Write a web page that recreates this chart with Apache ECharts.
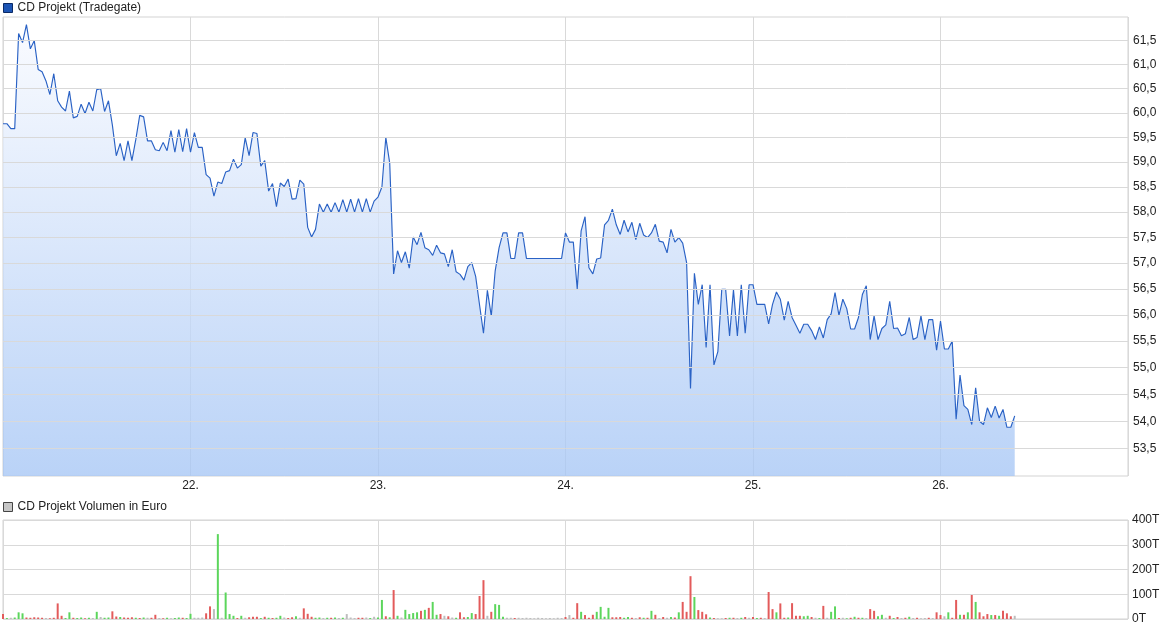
<!DOCTYPE html>
<html><head><meta charset="utf-8">
<script src="https://cdn.jsdelivr.net/npm/echarts@6/dist/echarts.min.js"></script>
<style>html,body{margin:0;padding:0;background:#fff}#c{width:1175px;height:630px}</style>
</head><body><div id="c"></div>
<script>
// ---- data ----
const START_DAY = 21;          // first sample: day 21, 00:00
const STEP_DAYS = 1 / 48;      // one sample every 30 minutes
const dayTicks = [22, 23, 24, 25, 26];
const priceTicks = [53.5, 54, 54.5, 55, 55.5, 56, 56.5, 57, 57.5, 58, 58.5, 59, 59.5, 60, 60.5, 61, 61.5];
const volumeTicks = [0, 100, 200, 300, 400];

const prices = [
59.78,59.78,59.68,59.68,61.65,61.46,61.84,61.33,61.5,60.9,
60.85,60.66,60.38,60.81,60.25,60.12,60.04,60.45,59.9,59.93,
60.18,59.99,60.22,60.04,60.48,60.5,60.03,60.25,59.75,59.13,
59.38,59.03,59.43,59.03,59.46,59.95,59.92,59.43,59.43,59.25,
59.23,59.4,59.23,59.64,59.2,59.66,59.21,59.68,59.2,59.6,
59.3,59.3,58.75,58.68,58.32,58.6,58.57,58.8,58.83,59.06,
58.88,58.95,59.49,59.13,59.6,59.58,58.92,59.03,58.42,58.57,
58.11,58.58,58.51,58.66,58.26,58.27,58.64,58.56,57.7,57.51,
57.66,58.16,58.0,58.16,58.0,58.19,58.0,58.25,58.0,58.26,
58.0,58.27,58.0,58.27,58.0,58.22,58.3,58.5,59.5,58.98,
56.79,57.24,57.01,57.22,56.9,57.51,57.36,57.6,57.3,57.26,
57.15,57.35,57.2,57.18,56.93,57.26,56.83,56.78,56.67,56.93,
57.01,56.74,56.19,55.65,56.47,55.98,56.85,57.3,57.59,57.59,
57.09,57.09,57.59,57.59,57.09,57.09,57.09,57.09,57.09,57.09,
57.09,57.09,57.09,57.09,57.59,57.41,57.41,56.5,57.63,57.91,
56.91,56.79,57.08,57.1,57.75,57.84,58.06,57.75,57.56,57.84,
57.61,57.8,57.46,57.78,57.55,57.5,57.59,57.76,57.43,57.41,
57.2,57.66,57.41,57.5,57.39,57.01,54.61,56.8,56.2,56.58,
55.38,56.58,55.05,55.3,56.49,56.49,55.6,56.48,55.6,56.58,
55.65,56.58,56.58,56.2,56.2,56.2,55.83,56.2,56.44,56.3,
55.9,56.26,55.95,55.8,55.65,55.82,55.82,55.7,55.53,55.77,
55.56,55.91,56.02,56.43,55.99,56.3,56.12,55.73,55.73,55.95,
56.39,56.56,55.53,55.98,55.53,55.74,55.81,56.26,55.74,55.75,
55.6,55.64,55.95,55.53,55.57,55.98,55.53,55.91,55.91,55.33,
55.88,55.35,55.35,55.5,54.04,54.86,54.29,54.22,53.94,54.62,
54.0,53.94,54.25,54.07,54.28,54.06,54.22,53.89,53.89,54.1
];

// volume in thousand euro (T), same 30-minute samples
const volumes = [
20,4,5,6,27,23,6,5,7,6,
5,4,3,5,63,13,4,27,5,4,
6,3,5,4,29,8,5,6,31,10,
8,6,5,7,5,4,6,5,5,17,
4,3,5,3,4,6,5,4,21,5,
5,6,23,51,40,343,5,107,20,13,
4,13,5,7,9,9,4,9,5,4,
5,13,6,4,7,11,5,43,21,9,
5,6,4,5,5,6,4,5,20,6,
4,5,5,6,4,9,6,77,11,7,
117,13,6,37,20,24,27,33,37,45,
69,17,20,13,11,6,5,27,7,8,
24,20,93,157,13,29,60,57,9,5,
5,4,5,4,5,4,3,5,4,3,
4,3,5,4,8,16,5,64,29,16,
5,17,29,49,9,45,7,7,8,5,
8,5,4,7,5,5,33,17,4,8,
5,8,6,27,69,29,173,89,36,29,
19,6,4,3,3,4,5,5,4,5,
8,5,8,4,5,4,109,40,27,63,
5,6,64,13,13,11,13,8,5,4,
53,5,29,51,4,5,3,5,9,5,
5,4,40,33,11,17,5,13,4,8,
4,5,9,4,5,3,4,5,4,27,
16,11,27,5,77,17,17,27,97,69,
27,11,20,16,16,13,33,23,11,13
];
// trade direction per sample: r = down, g = up, n = unchanged
const volumeDir = [
"rgngggrrrr","rnrrrrggrg","grgngnggrr","grrrgrgnrr","nrgnggrggn",
"nnrrngnggg","rgnrrrgrgr","ggnrrgnrrr","ggngrgngnn","nrrngnggrg",
"rgnggggrgr","ggrnrngrrg","grrrnrgggn","nrnnnnnnnn","nnnnrnrrgr",
"rrggggrrrg","grnrgrgrnr","ngrgrrrgrr","rgrnnrgrng","rnrgrnrrgr",
"rgrrrggrng","rnggrngrgr","gnrrggnrgr","nrgnrnnrnr","rngrrgrgrg",
"rrrgrgrrrn"
].join('');

// ---- chart ----
const FONT = "'Liberation Sans', Arial, sans-serif";
const GRID_COLOR = '#d9d9d9';
const fmtPrice = v => v.toFixed(1).replace('.', ',');
const priceData = prices.map((p, i) => [START_DAY + i * STEP_DAYS, p]);
const volColors = { r: '#e35b5b', g: '#5cd65c', n: '#bdbdbd' };
const volData = volumes.map((v, i) => ({
  value: [START_DAY + i * STEP_DAYS, v],
  itemStyle: { color: volColors[volumeDir[i]] }
}));

const chart = echarts.init(document.getElementById('c'), null, { renderer: 'canvas' });
chart.setOption({
  animation: false,
  backgroundColor: '#fff',
  textStyle: { fontFamily: FONT },
  legend: [
    {
      left: 3, top: 2, padding: 0, itemWidth: 9, itemHeight: 9, itemGap: 10, selectedMode: false,
      textStyle: { fontSize: 12, color: '#222', fontFamily: FONT },
      data: [{ name: 'CD Projekt (Tradegate)', icon: 'rect',
        itemStyle: { color: '#1d55b5', borderColor: '#0b2a66', borderWidth: 1 } }]
    },
    {
      left: 3, top: 501, padding: 0, itemWidth: 9, itemHeight: 9, itemGap: 10, selectedMode: false,
      textStyle: { fontSize: 12, color: '#222', fontFamily: FONT },
      data: [{ name: 'CD Projekt Volumen in Euro', icon: 'rect',
        itemStyle: { color: '#c6c6c6', borderColor: '#444', borderWidth: 1 } }]
    }
  ],
  grid: [
    { left: 3, right: 47, top: 17, height: 459, show: true, borderColor: '#d3d3d3', borderWidth: 1 },
    { left: 3, right: 47, top: 520, height: 99, show: true, borderColor: '#d3d3d3', borderWidth: 1 }
  ],
  xAxis: [
    {
      type: 'value', gridIndex: 0, min: 21, max: 27, interval: 1,
      axisLine: { show: false }, axisTick: { show: false },
      axisLabel: { margin: 4, color: '#222', fontSize: 12, fontFamily: FONT,
        formatter: v => dayTicks.includes(v) ? v + '.' : '' },
      splitLine: { show: true, lineStyle: { color: GRID_COLOR, width: 1 } }
    },
    {
      type: 'value', gridIndex: 1, min: 21, max: 27, interval: 1,
      axisLine: { show: false }, axisTick: { show: false }, axisLabel: { show: false },
      splitLine: { show: true, lineStyle: { color: GRID_COLOR, width: 1 } }
    }
  ],
  yAxis: [
    {
      type: 'log', gridIndex: 0, min: 53, max: 62, position: 'right',
      axisLine: { show: false }, axisTick: { show: false },
      axisLabel: { show: false }, splitLine: { show: false }
    },
    {
      type: 'value', gridIndex: 1, position: 'right', min: 0, max: 400, interval: 100,
      axisLine: { show: false }, axisTick: { show: false },
      axisLabel: { margin: 4, color: '#222', fontSize: 12, fontFamily: FONT,
        formatter: v => volumeTicks.includes(v) ? v + 'T' : '' },
      splitLine: { show: true, lineStyle: { color: GRID_COLOR, width: 1 } }
    }
  ],
  series: [
    {
      // carrier for the price grid lines + labels (log-scaled axis)
      type: 'line', name: 'priceGrid', xAxisIndex: 0, yAxisIndex: 0, z: 1,
      data: priceData, symbol: 'none', silent: true,
      lineStyle: { opacity: 0 },
      markLine: {
        silent: true, symbol: ['none', 'none'], animation: false,
        lineStyle: { color: GRID_COLOR, width: 1, type: 'solid' },
        label: { show: true, position: 'end', distance: 5, color: '#222', fontSize: 12,
          fontFamily: FONT, formatter: p => fmtPrice(p.value) },
        emphasis: { disabled: true },
        data: priceTicks.map(v => ({ yAxis: v }))
      }
    },
    {
      type: 'line', name: 'CD Projekt (Tradegate)', xAxisIndex: 0, yAxisIndex: 0, z: 3,
      data: priceData, symbol: 'none', showSymbol: false,
      lineStyle: { color: '#2a62c5', width: 1.15 },
      itemStyle: { color: '#1d55b5' },
      areaStyle: {
        origin: 'start', opacity: 1,
        color: new echarts.graphic.LinearGradient(0, 0, 0, 1, [
          { offset: 0, color: 'rgba(248,250,255,0.78)' },
          { offset: 1, color: 'rgba(166,198,245,0.78)' }
        ])
      }
    },
    {
      type: 'bar', name: 'CD Projekt Volumen in Euro', xAxisIndex: 1, yAxisIndex: 1,
      data: volData, barWidth: 2, itemStyle: { color: '#bdbdbd' }
    }
  ]
});
</script>
</body></html>
